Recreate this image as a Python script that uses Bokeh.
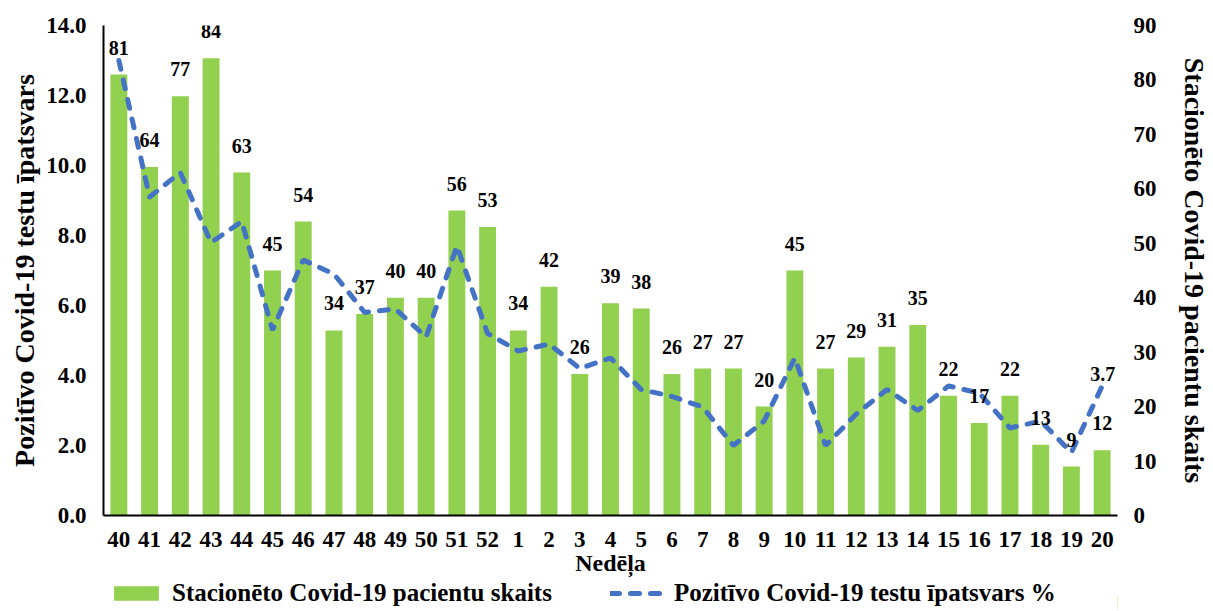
from bokeh.plotting import figure
from bokeh.layouts import column
from bokeh.models import (ColumnDataSource, FactorRange, Range1d, LinearAxis,
                          Legend, LegendItem, FixedTicker, NumeralTickFormatter)
from bokeh.core.properties import value
from bokeh.embed import file_html
from bokeh.resources import INLINE

weeks = ["40", "41", "42", "43", "44", "45", "46", "47", "48", "49", "50", "51", "52",
         "1", "2", "3", "4", "5", "6", "7", "8", "9", "10", "11", "12", "13", "14",
         "15", "16", "17", "18", "19", "20"]
patients = [81, 64, 77, 84, 63, 45, 54, 34, 37, 40, 40, 56, 53, 34, 42, 26, 39, 38,
            26, 27, 27, 20, 45, 27, 29, 31, 35, 22, 17, 22, 13, 9, 12]
positive_pct = [13.0, 9.1, 9.8, 7.8, 8.4, 5.3, 7.3, 6.9, 5.8, 5.9, 5.1, 7.7, 5.2,
                4.7, 4.9, 4.2, 4.5, 3.6, 3.4, 3.1, 2.0, 2.7, 4.5, 2.0, 2.9, 3.6, 3.0,
                3.7, 3.5, 2.5, 2.7, 1.8, 3.7]
left_ticks = [0, 2, 4, 6, 8, 10, 12, 14]
right_ticks = [0, 10, 20, 30, 40, 50, 60, 70, 80, 90]

bar_name = "Stacionēto Covid-19 pacientu skaits"
line_name = "Pozitīvo Covid-19 testu īpatsvars %"
left_title = "Pozitīvo Covid-19 testu īpatsvars"
right_title = "Stacionēto Covid-19 pacientu skaits"
x_title = "Nedēļa"

FONT_NAME = "Liberation Serif"
FONT = value(FONT_NAME)
GREEN = "#92D050"
BLUE = "#4472C4"
DASH = "9 11"
W = 1212
LEFT_B = 103
RIGHT_B = 87

src = ColumnDataSource(dict(week=weeks, patients=patients, pct=positive_pct,
                            plabel=[str(v) for v in patients]))
last_src = ColumnDataSource(dict(week=[weeks[-1]], pct=[positive_pct[-1]],
                                 lbl=[f"{positive_pct[-1]}"]))

p = figure(x_range=FactorRange(*weeks), y_range=Range1d(0, 14),
           width=W, height=578, output_backend="svg", toolbar_location=None,
           min_border_left=LEFT_B, min_border_right=RIGHT_B, min_border_top=25,
           min_border_bottom=40)
p.extra_y_ranges = {"right": Range1d(0, 90)}

bars = p.vbar(x="week", top="patients", width=0.55, source=src, y_range_name="right",
              fill_color=GREEN, line_color=None)
line = p.line(x="week", y="pct", source=src, line_color=BLUE, line_width=5,
              line_dash=DASH, line_cap="round")

p.text(x="week", y="patients", text="plabel", source=src, y_range_name="right",
       text_align="center", text_baseline="middle", y_offset=-27,
       text_font=FONT, text_font_style="bold", text_font_size="20px", text_color="black")
p.text(x="week", y="pct", text="lbl", source=last_src,
       text_align="right", text_baseline="middle", x_offset=13, y_offset=-12,
       text_font=FONT, text_font_style="bold", text_font_size="20px", text_color="black")

p.xgrid.visible = False
p.ygrid.visible = False
p.outline_line_color = None


def style_axis(ax, standoff):
    ax.major_tick_out = 0
    ax.major_tick_in = 0
    ax.minor_tick_out = 0
    ax.minor_tick_in = 0
    ax.major_label_standoff = standoff
    ax.major_label_text_font = FONT_NAME
    ax.major_label_text_font_style = "bold"
    ax.major_label_text_font_size = "23px"
    ax.major_label_text_color = "black"
    ax.axis_label_text_font = FONT_NAME
    ax.axis_label_text_font_style = "bold"
    ax.axis_label_text_color = "black"


xa = p.xaxis[0]
style_axis(xa, 16)
xa.axis_line_color = "black"
xa.axis_line_width = 2
xa.axis_label = x_title
xa.axis_label_text_font_size = "24px"
xa.axis_label_standoff = 0

ya = p.yaxis[0]
style_axis(ya, 17)
ya.ticker = FixedTicker(ticks=left_ticks)
ya.formatter = NumeralTickFormatter(format="0.0")
ya.axis_line_color = "black"
ya.axis_line_width = 2
ya.axis_label = left_title
ya.axis_label_text_font_size = "28px"
ya.axis_label_standoff = 3

ra = LinearAxis(y_range_name="right", ticker=FixedTicker(ticks=right_ticks))
style_axis(ra, 16)
ra.axis_line_color = None
ra.axis_label = right_title
ra.axis_label_text_font_size = "28px"
ra.axis_label_standoff = 19
p.add_layout(ra, "right")

# legend strip below the chart
lp = figure(x_range=Range1d(0, 1), y_range=Range1d(0, 1), width=W, height=32,
            output_backend="svg", toolbar_location=None, x_axis_type=None, y_axis_type=None,
            min_border_left=LEFT_B, min_border_right=RIGHT_B, min_border_top=0,
            min_border_bottom=0)
lp.outline_line_color = None
lp.xgrid.visible = False
lp.ygrid.visible = False
# legend swatches only: their single point lies outside the strip's ranges
lg_bar = lp.vbar(x=[5], top=[0.5], width=0.5, fill_color=GREEN, line_color=None)
lg_line = lp.line(x=[5, 6], y=[0.5, 0.5], line_color=BLUE, line_width=5,
                  line_dash=DASH, line_cap="round")
legend = Legend(items=[LegendItem(label=bar_name, renderers=[lg_bar]),
                       LegendItem(label=line_name, renderers=[lg_line])],
                location=(5, 3), orientation="horizontal",
                glyph_width=56, glyph_height=18, label_standoff=8, spacing=58,
                padding=0, margin=0, border_line_color=None, background_fill_alpha=0,
                label_text_font=FONT_NAME, label_text_font_style="bold",
                label_text_font_size="25px", label_text_color="black")
lp.add_layout(legend)

layout = column(p, lp, spacing=0)
open("out.html", "w").write(file_html(layout, INLINE))
